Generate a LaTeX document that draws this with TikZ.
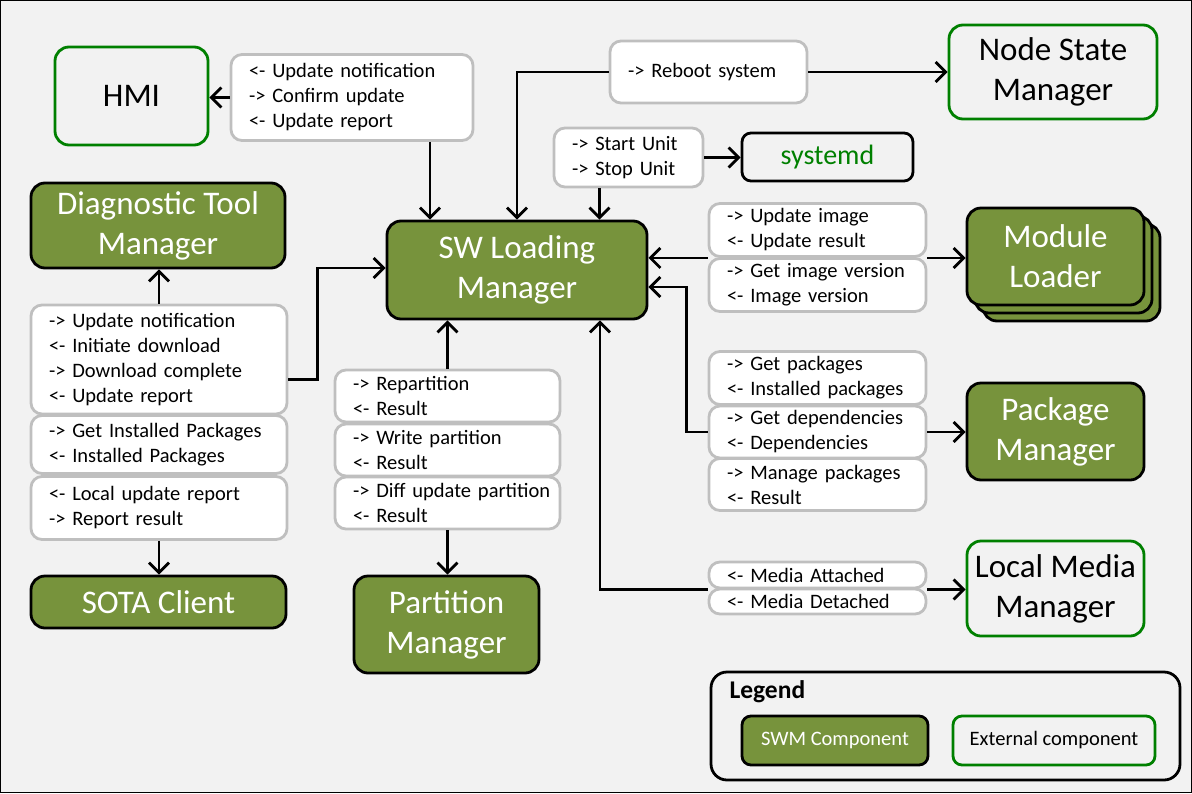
\documentclass[tikz,border=0pt]{standalone}
\usepackage{fontspec}
\setmainfont{Carlito}
\usepackage{tikz}
\usetikzlibrary{arrows.meta,positioning,calc,shadows}
\definecolor{swmolive}{HTML}{77933C}
\definecolor{extgreen}{HTML}{008000}
\definecolor{lblgray}{HTML}{BFBFBF}
\definecolor{bggray}{HTML}{F2F2F2}

\begin{document}
\begin{tikzpicture}[
    x=1pt,y=-1pt,
    swm/.style    = {draw=black, fill=swmolive, text=white, line width=2.8pt,
                     rounded corners=14pt, align=center, inner sep=2pt,
                     font=\fontsize{33}{40}\selectfont},
    ext/.style    = {draw=extgreen, line width=2.8pt, rounded corners=14pt,
                     align=center, inner sep=2pt,
                     font=\fontsize{33}{40}\selectfont},
    msg/.style    = {draw=lblgray, fill=white, line width=2.8pt,
                     rounded corners=11pt, align=left, inner xsep=18pt,
                     inner ysep=0pt, font=\fontsize{20.5}{25}\selectfont},
    conn/.style   = {-{Straight Barb[length=10pt,width=20pt]}, line width=2.8pt},
  ]

  \useasboundingbox (0,0) rectangle (1192,793);
  \draw[fill=bggray,line width=1pt] (0.5,0.5) rectangle (1191.5,792.5);

  \node[ext, minimum width=153pt, minimum height=98pt] (hmi) at (131.5,96) {HMI};
  \node[msg, text width=206pt, minimum height=86pt] (lbHmi) at (352,97.5)
       {<- Update notification\\-> Confirm update\\<- Update report};

  \node[swm, minimum width=254pt, minimum height=85pt] (dtm) at (158,225.5)
       {Diagnostic Tool\\Manager};
  \node[swm, minimum width=260pt, minimum height=98pt] (swlm) at (517,270)
       {SW Loading\\Manager};

  \node[msg, text width=161pt, minimum height=62pt] (lbReboot) at (708.5,72)
       {-> Reboot system};
  \node[ext, minimum width=208pt, minimum height=94pt] (nsm) at (1053,72)
       {Node State\\Manager};

  \node[msg, text width=113pt, minimum height=59pt] (lbUnit) at (628.5,157.5)
       {-> Start Unit\\-> Stop Unit};
  \node[swm, fill=none, text=extgreen, minimum width=171pt, minimum height=48pt,
        rounded corners=9pt, font=\fontsize{28}{32}\selectfont] (systemd) at (827.5,157)
       {systemd};

  \node[msg, text width=181pt, minimum height=53pt] (lbImgA) at (817.5,230)
       {-> Update image\\<- Update result};
  \node[msg, text width=181pt, minimum height=53pt] (lbImgB) at (817.5,285)
       {-> Get image version\\<- Image version};
  \node[swm, minimum width=177pt, minimum height=97pt,
        double copy shadow={shadow xshift=8pt,shadow yshift=-8pt}]
       (loader) at (1055.5,256.5) {Module\\Loader};

  \node[msg, text width=181pt, minimum height=53pt] (lbPkgA) at (817.5,378)
       {-> Get packages\\<- Installed packages};
  \node[msg, text width=181pt, minimum height=52pt] (lbPkgB) at (817.5,432)
       {-> Get dependencies\\<- Dependencies};
  \node[msg, text width=181pt, minimum height=52pt] (lbPkgC) at (817.5,484.5)
       {-> Manage packages\\<- Result};
  \node[swm, minimum width=177pt, minimum height=97pt] (pkgmgr) at (1055.5,431.5)
       {Package\\Manager};

  \node[msg, text width=181pt, minimum height=26pt] (lbMediaA) at (817.5,575)
       {<- Media Attached};
  \node[msg, text width=181pt, minimum height=25pt] (lbMediaB) at (817.5,601.5)
       {<- Media Detached};
  \node[ext, minimum width=177pt, minimum height=95pt] (lmm) at (1055.5,588.5)
       {Local Media\\Manager};

  \node[msg, text width=220pt, minimum height=109pt] (lbSotaA) at (159,359.5)
       {-> Update notification\\<- Initiate download\\-> Download complete\\<- Update report};
  \node[msg, text width=220pt, minimum height=58pt] (lbSotaB) at (159,444.5)
       {-> Get Installed Packages\\<- Installed Packages};
  \node[msg, text width=220pt, minimum height=63pt] (lbSotaC) at (159,508)
       {<- Local update report\\-> Report result};
  \node[swm, minimum width=255pt, minimum height=52pt] (sota) at (158.5,602)
       {SOTA Client};

  \node[msg, text width=189pt, minimum height=52pt] (lbPartA) at (447.5,396)
       {-> Repartition\\<- Result};
  \node[msg, text width=189pt, minimum height=52pt] (lbPartB) at (447.5,450)
       {-> Write partition\\<- Result};
  \node[msg, text width=189pt, minimum height=52pt] (lbPartC) at (447.5,503)
       {\mbox{-> Diff update partition}\\<- Result};
  \node[swm, minimum width=185pt, minimum height=97pt] (partmgr) at (446.5,624.5)
       {Partition\\Manager};

  \draw[conn] (lbHmi.west) -- (lbHmi.west -| hmi.east);
  \draw[conn] ([xshift=78pt]lbHmi.south) -- ([xshift=78pt]lbHmi.south |- swlm.north);
  \draw[conn] (lbReboot.west) -| (swlm.north);
  \draw[conn] (lbReboot.east) -- (nsm.west);
  \draw[conn] (lbUnit.east) -- (lbUnit.east -| systemd.west);
  \draw[conn] ([xshift=-29pt]lbUnit.south) -- ([xshift=-29pt]lbUnit.south |- swlm.north);
  \draw[conn] (lbImgA.south west) -- (lbImgA.south west -| swlm.east);
  \draw[conn] (lbImgA.south east) -- (lbImgA.south east -| loader.west);
  \draw[conn] (lbPkgB.west) -- ++(-21,0) |- ([yshift=-17pt]swlm.east);
  \draw[conn] (lbPkgB.east) -- (lbPkgB.east -| pkgmgr.west);
  \draw[conn] (lbMediaA.south west) -| ([xshift=83pt]swlm.south);
  \draw[conn] (lbMediaA.south east) -- (lbMediaA.south east -| lmm.west);
  \draw[conn] (lbSotaA.north) -- (lbSotaA.north |- dtm.south);
  \draw[conn] ([yshift=-20pt]lbSotaA.east) -- ++(29,0) |- ([yshift=2pt]swlm.west);
  \draw[conn] (lbSotaC.south) -- (lbSotaC.south |- sota.north);
  \draw[conn] (lbPartA.north) -- (lbPartA.north |- swlm.south);
  \draw[conn] (lbPartC.south) -- (lbPartC.south |- partmgr.north);

  \node[draw=black, line width=2.8pt, rounded corners=16pt,
        minimum width=469pt, minimum height=108pt] (legend) at (945.5,726) {};
  \node[font=\fontsize{25.5}{28}\selectfont\bfseries, anchor=west] (legTitle) at (726,692)
       {Legend};
  \node[swm, font=\fontsize{20.5}{24}\selectfont, rounded corners=9pt,
        minimum width=186pt, minimum height=49pt] (legSwm) at (835,740.5) {SWM Component};
  \node[ext, font=\fontsize{20.5}{24}\selectfont, rounded corners=9pt,
        minimum width=202pt, minimum height=49pt] (legExt) at (1054,740.5) {External component};

\end{tikzpicture}
\end{document}
